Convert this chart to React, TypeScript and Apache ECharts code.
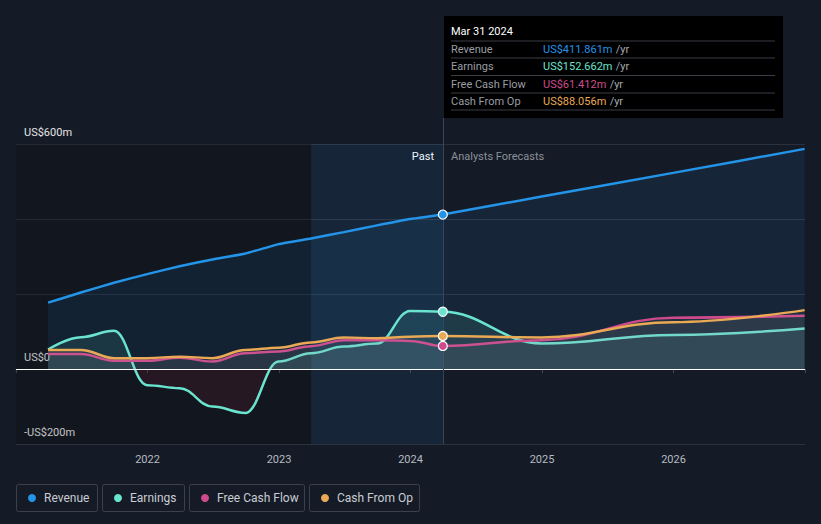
import React, { useEffect, useRef } from "react";
import * as echarts from "echarts";

const pastDates = [
  "2021-03-31", "2021-06-30", "2021-09-30", "2021-12-31",
  "2022-03-31", "2022-06-30", "2022-09-30", "2022-12-31",
  "2023-03-31", "2023-06-30", "2023-09-30", "2023-12-31",
  "2024-03-31",
];
const forecastDates = ["2024-12-31", "2025-12-31", "2026-12-31"];
const dates = [...pastDates, ...forecastDates];

const revenue = [177, 204, 230, 253, 274, 292, 308, 333, 348, 365, 383, 400, 411.861, 460, 523, 587];
const earnings = [52, 85, 102, -43, -51, -100, -117, 20, 42, 60, 68, 155, 152.662, 68, 91, 108];
const freeCashFlow = [40, 40, 22, 22, 30, 20, 42, 47, 61, 77, 77, 75, 61.412, 77, 137, 142];
const cashFromOp = [51, 51, 29, 29, 33, 29, 51, 57, 71, 84, 82, 86, 88.056, 84, 125, 157];

const yTicks = [-200, 0, 200, 400, 600];
const yTickLabels: Record<number, string> = { 600: "US$600m", 0: "US$0", [-200]: "-US$200m" };
const xYears = [2022, 2023, 2024, 2025, 2026];

const currentDate = "2024-03-31";
const highlightStart = "2023-03-31";
const tooltipTitle = "Mar 31 2024";

const names = ["Revenue", "Earnings", "Free Cash Flow", "Cash From Op"];
const colors = ["#2394e8", "#6ae3cf", "#cf4a8d", "#eaa955"];
const seriesValues = [revenue, earnings, freeCashFlow, cashFromOp];

function toYear(d: string): number {
  const [y, m, day] = d.split("-").map(Number);
  const start = Date.UTC(y, 0, 1);
  const end = Date.UTC(y + 1, 0, 1);
  return y + (Date.UTC(y, m - 1, day) - start) / (end - start);
}

const fmt = (v: number) => "US$" + v.toFixed(3) + "m";

export default function App() {
  const ref = useRef<HTMLDivElement>(null);
  useEffect(() => {
    document.body.style.margin = "0";
    document.body.style.background = "#151b26";
    const chart = echarts.init(ref.current!, undefined, { renderer: "svg" });
    const nowX = toYear(currentDate);
    const nowIdx = dates.indexOf(currentDate);
    const font = "Roboto, sans-serif";

    const areaColors: any[] = [
      "rgba(33,150,243,0.13)",
      new echarts.graphic.LinearGradient(0, 144, 0, 444, [
        { offset: 0, color: "rgba(100,220,200,0.16)" },
        { offset: 0.75, color: "rgba(100,220,200,0.16)" },
        { offset: 0.75, color: "rgba(200,40,60,0.16)" },
        { offset: 1, color: "rgba(200,40,60,0.16)" },
      ], true),
      "rgba(170,170,180,0.11)",
      "rgba(170,170,180,0.11)",
    ];

    const series: any[] = seriesValues.map((vals, i) => ({
      name: names[i],
      type: "line",
      data: dates.map((d, j) => [toYear(d), vals[j]]),
      smooth: i === 0 ? 0.15 : 0.4,
      smoothMonotone: i === 0 ? undefined : "x",
      showSymbol: false,
      symbol: "none",
      lineStyle: { color: colors[i], width: 2.5 },
      itemStyle: { color: colors[i] },
      areaStyle: { color: areaColors[i], origin: 0 },
      z: 3 + i,
      markPoint: {
        symbol: "circle",
        symbolSize: 9,
        label: { show: false },
        itemStyle: { color: colors[i], borderColor: "#ffffff", borderWidth: 1.2 },
        data: [{ coord: [nowX, vals[nowIdx]] }],
        z: 10,
      },
    }));

    series.push({
      type: "line",
      data: [],
      silent: true,
      z: 1,
      markArea: {
        silent: true,
        data: [
          [{ xAxis: 2021, itemStyle: { color: "rgba(0,0,0,0.16)" } }, { xAxis: toYear(highlightStart) }],
          [{ xAxis: toYear(highlightStart), itemStyle: { color: "rgba(33,150,243,0.09)" } }, { xAxis: nowX }],
        ],
      },
      markLine: {
        silent: true,
        symbol: "none",
        label: { show: false },
        data: [
          { yAxis: 0, lineStyle: { color: "#ffffff", width: 1, type: "solid" } },
          { xAxis: nowX, lineStyle: { color: "#34475c", width: 1, type: "solid" } },
        ],
      },
    });

    const rowYs = [49, 66, 84, 101];
    const sepYs = [41, 58, 75.5, 93, 110];
    const tooltipEls: any[] = [
      { type: "rect", shape: { x: 444, y: 16, width: 339, height: 102 }, style: { fill: "#000000" } },
      { type: "line", shape: { x1: 443.5, y1: 118, x2: 443.5, y2: 144 }, style: { stroke: "#34475c", lineWidth: 1 } },
      { type: "text", x: 451, y: 31, style: { text: tooltipTitle, fill: "#ffffff", font: `11px ${font}`, verticalAlign: "middle" } },
      ...sepYs.map((y) => ({ type: "line", shape: { x1: 451, y1: y, x2: 775, y2: y }, style: { stroke: "#3a3d44", lineWidth: 1 } })),
      ...names.map((n, i) => ({ type: "text", x: 451, y: rowYs[i], style: { text: n, fill: "#9a9da4", font: `11px ${font}`, verticalAlign: "middle" } })),
      ...names.map((n, i) => ({
        type: "text", x: 543, y: rowYs[i],
        style: {
          text: `{v|${fmt(seriesValues[i][nowIdx])}} {u|/yr}`,
          verticalAlign: "middle",
          rich: {
            v: { fill: colors[i], font: `11px ${font}` },
            u: { fill: "#a6a9b0", font: `11px ${font}` },
          },
        },
      })),
      { type: "text", x: 434, y: 156, style: { text: "Past", fill: "#ffffff", font: `11px ${font}`, align: "right", verticalAlign: "middle" } },
      { type: "text", x: 451, y: 156, style: { text: "Analysts Forecasts", fill: "#8b9099", font: `11px ${font}`, verticalAlign: "middle" } },
    ];

    const legendBoxes = [
      { x: 16.5, w: 81 },
      { x: 102.5, w: 82 },
      { x: 189.5, w: 115 },
      { x: 309.5, w: 110 },
    ];
    const legendEls: any[] = [];
    legendBoxes.forEach((b, i) => {
      legendEls.push({ type: "rect", shape: { x: b.x, y: 484.5, width: b.w, height: 27, r: 2 }, style: { fill: "transparent", stroke: "#3b404b", lineWidth: 1 } });
      legendEls.push({ type: "circle", shape: { cx: b.x + 15.5, cy: 498, r: 4 }, style: { fill: colors[i] } });
      legendEls.push({ type: "text", x: b.x + 27.5, y: 498, style: { text: names[i], fill: "#c9ccd2", font: `12px ${font}`, verticalAlign: "middle" } });
    });

    chart.setOption({
      animation: false,
      backgroundColor: "#151b26",
      grid: { left: 16, right: 16, top: 144, bottom: 80, containLabel: false },
      xAxis: {
        type: "value",
        min: 2021,
        max: 2027,
        interval: 1,
        axisLine: { show: true, lineStyle: { color: "#454b56" } },
        axisTick: { show: true, length: 4, lineStyle: { color: "#454b56" } },
        axisLabel: {
          color: "#b6bac2",
          fontSize: 11,
          fontFamily: font,
          margin: 10,
          formatter: (v: number) => (xYears.includes(v) ? String(v) : ""),
        },
        splitLine: { show: false },
      },
      yAxis: {
        type: "value",
        min: yTicks[0],
        max: yTicks[yTicks.length - 1],
        interval: 200,
        axisLine: { show: false },
        axisTick: { show: false },
        axisLabel: {
          inside: true,
          margin: 8,
          color: "#e6e6e6",
          fontSize: 11,
          fontFamily: font,
          verticalAlign: "bottom",
          padding: [0, 0, 6, 0],
          formatter: (v: number) => yTickLabels[v] ?? "",
        },
        splitLine: { show: true, lineStyle: { color: "#2c323d", width: 1 } },
      },
      series,
      graphic: [...tooltipEls, ...legendEls],
    });
    return () => chart.dispose();
  }, []);
  return <div ref={ref} style={{ width: 821, height: 524 }} />;
}
